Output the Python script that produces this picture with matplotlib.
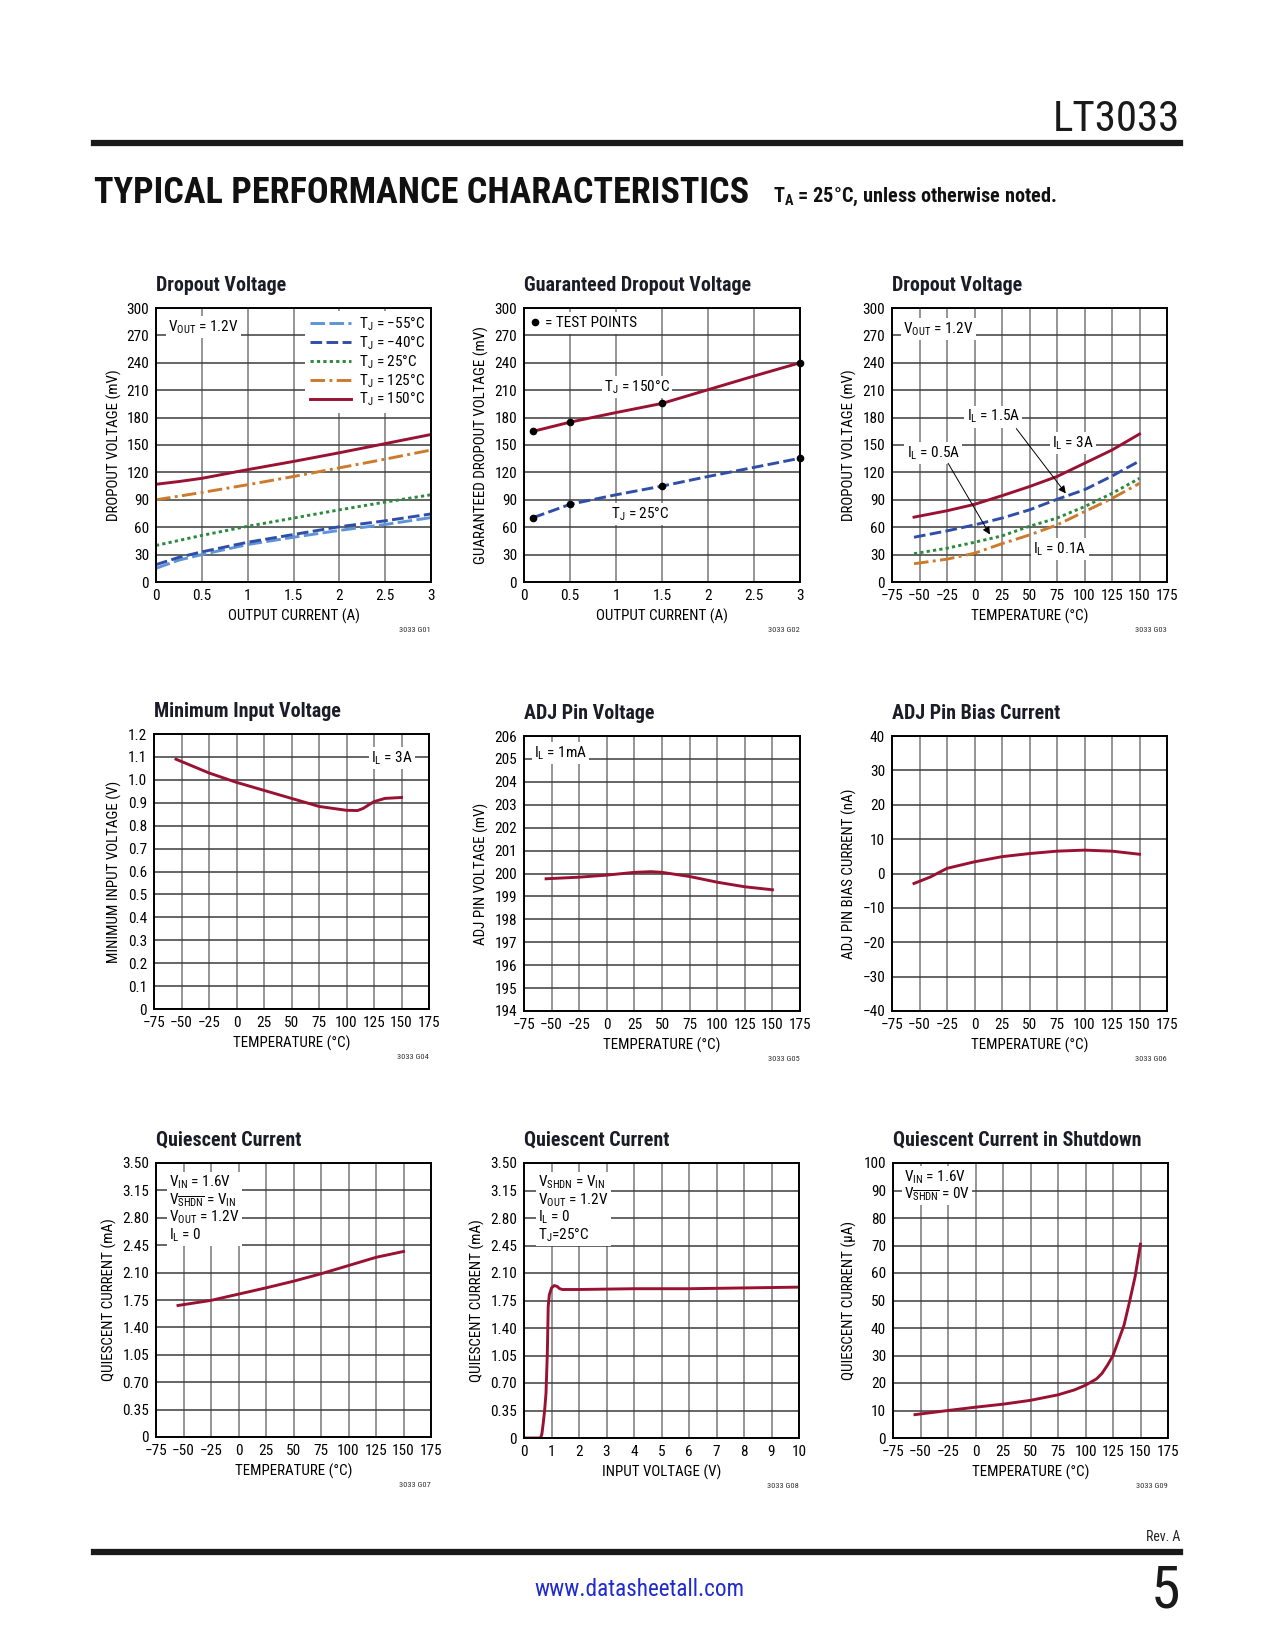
import numpy as np
import matplotlib.pyplot as plt
from matplotlib import font_manager as fm
from matplotlib.lines import Line2D

# pick a condensed sans if one is installed, else Liberation Sans (Arial metrics)
names = {f.name for f in fm.fontManager.ttflist}
FAM = 'Liberation Sans'
STRETCH = 'normal'
for cand in ['Liberation Sans Narrow', 'DejaVu Sans Condensed', 'Roboto Condensed',
             'Open Sans Condensed']:
    if cand in names:
        FAM = cand
        break
else:
    if any(f.name == 'DejaVu Sans' and str(f.stretch) == 'condensed' for f in fm.fontManager.ttflist):
        FAM, STRETCH = 'DejaVu Sans', 'condensed'
NARROW = FAM != 'Liberation Sans'
K = 1.0 if NARROW else 0.86   # font scale so text widths stay close to the page

plt.rcParams['font.family'] = [FAM, 'DejaVu Sans']
plt.rcParams['font.stretch'] = STRETCH
plt.rcParams['mathtext.fontset'] = 'custom'
plt.rcParams['mathtext.rm'] = FAM
plt.rcParams['mathtext.it'] = FAM + ':italic'
plt.rcParams['mathtext.bf'] = FAM + ':bold'

W, H = 1275, 1650
RED = '#9a1232'
BLUE = '#2f4ea8'
LBLUE = '#5f93d8'
GREEN = '#2b8a3e'
ORANGE = '#cc7a2c'
TITLE_C = '#1c1c28'

# ---- data ----
cur_x = [0, 0.25, 0.5, 1, 1.5, 2, 2.5, 3]
dv_m55 = [15, 24, 30, 41, 49, 56.5, 63, 70.5]
dv_m40 = [19, 27, 33, 43.5, 52, 60.5, 67, 74.5]
dv_25 = [40, 45.5, 51, 61, 70, 79, 87.5, 95.5]
dv_125 = [90, 94, 98, 106.5, 115.5, 125, 134.5, 144.5]
dv_150 = [107, 110, 113.5, 123, 132, 141.5, 151.5, 161.5]

gd_x = [0.1, 0.5, 1, 1.5, 2, 2.5, 3]
gd_150 = [165, 175, 185.5, 195.5, 210.5, 225.5, 240]
gd_25 = [70.5, 85, 95.5, 105, 115.5, 125.5, 135.5]
test_x = [0.1, 0.5, 1.5, 3]
test_150 = [165, 175, 195.5, 240]
test_25 = [70.5, 85, 105, 135.5]

temp = [-55, -25, 0, 25, 50, 75, 100, 125, 150]
dt_3a = [71, 78, 85, 94.5, 104.5, 115.5, 130, 144.5, 162]
dt_15a = [49, 56, 62.5, 70, 79, 90.5, 101, 116, 132.5]
dt_05a = [31, 37, 43.5, 50.5, 61, 70, 82.5, 97, 113.5]
dt_01a = [20, 25, 31.5, 42, 51.5, 62.5, 77, 91.5, 108]

vmin_t = [-55, -25, 0, 25, 50, 75, 100, 110, 115, 125, 135, 150]
vmin_v = [1.09, 1.03, 0.989, 0.954, 0.919, 0.884, 0.867, 0.866, 0.875, 0.905, 0.919, 0.923]

adj_t = [-55, -25, 0, 25, 40, 50, 75, 100, 125, 150]
adj_v = [199.77, 199.84, 199.93, 200.05, 200.08, 200.05, 199.87, 199.62, 199.42, 199.29]

bias_t = [-55, -40, -25, 0, 25, 50, 75, 100, 125, 150]
bias_i = [-2.9, -1.0, 1.5, 3.4, 4.9, 5.8, 6.5, 6.8, 6.5, 5.6]

iq_t = [-55, -25, 0, 25, 50, 75, 100, 125, 150]
iq_ma = [1.68, 1.745, 1.825, 1.905, 1.99, 2.085, 2.19, 2.295, 2.37]

iqv_x = [0, 0.6, 0.65, 0.7, 0.75, 0.8, 0.85, 0.88, 0.92, 1.0, 1.1, 1.2, 1.3, 1.4, 2, 4, 6, 8, 10]
iqv_ma = [0, 0, 0.05, 0.19, 0.35, 0.57, 1.1, 1.67, 1.82, 1.91, 1.94, 1.93, 1.9, 1.89, 1.89, 1.9, 1.9, 1.91, 1.92]

sd_t = [-55, -25, 0, 25, 50, 75, 90, 100, 110, 115, 120, 125, 130, 135, 140, 145, 150]
sd_ua = [8.5, 10, 11.2, 12.3, 13.7, 15.7, 17.5, 19.2, 21.5, 23.5, 26.5, 30, 35.5, 41, 49.5, 58.5, 70.5]

temp_ticks = list(range(-75, 176, 25))
temp_labels = [str(t).replace('-', '\u2212') for t in temp_ticks]

FS = 11 * K         # tick labels, notes
FL = 10.8 * K       # axis labels
FT = 14.4 * K       # chart titles

fig = plt.figure(figsize=(W / 100, H / 100), dpi=100)


def make_axes(box, title, code, xlabel, ylabel, ylab_x):
    l, t, r, b = box
    w, h = r - l, b - t
    ax = fig.add_axes([l / W, 1 - b / H, w / W, h / H])
    ax.set_axisbelow(True)
    ax.grid(axis='y', color='#3c3c3c', lw=1.1)
    ax.grid(axis='x', color='#8c8c8c', lw=1.3)
    ax.tick_params(length=0, labelsize=FS, pad=5.0)
    for s in ax.spines.values():
        s.set_linewidth(1.4)
        s.set_color('black')
    ax.set_xlabel(xlabel, fontsize=FL)
    ax.set_ylabel(ylabel, fontsize=FL)
    ax.xaxis.set_label_coords(0.5, -0.098)
    ax.yaxis.set_label_coords((ylab_x + 7 - l) / w, 0.5)
    ax.text(0, 1 + 17 / h, title, transform=ax.transAxes, fontsize=FT,
            fontweight='bold', color=TITLE_C, va='baseline', ha='left')
    ax.text(1, -48 / h, code, transform=ax.transAxes, fontsize=6,
            ha='right', va='center', color='#333333')
    return ax


def temp_axis(ax):
    ax.set_xlim(-75, 175)
    ax.set_xticks(temp_ticks)
    ax.set_xticklabels(temp_labels)


def note(ax, x, y, s, ha='center', va='center'):
    ax.text(x, y, s, fontsize=FS, ha=ha, va=va, zorder=3, linespacing=1.0,
            bbox=dict(facecolor='white', edgecolor='none', pad=1.5))


LW = 2.1

# ---- G01 ----
ax = make_axes((156, 308, 431, 582), 'Dropout Voltage', '3033 G01',
               'OUTPUT CURRENT (A)', 'DROPOUT VOLTAGE (mV)', 115)
ax.plot(cur_x, dv_m55, color=LBLUE, lw=LW, dashes=(5, 1.5), label='T$_{\\mathrm{J}}$ = \u221255\u00b0C')
ax.plot(cur_x, dv_m40, color=BLUE, lw=LW, dashes=(4, 1.5), label='T$_{\\mathrm{J}}$ = \u221240\u00b0C')
ax.plot(cur_x, dv_25, color=GREEN, lw=LW, dashes=(1.1, 1.1), label='T$_{\\mathrm{J}}$ = 25\u00b0C')
ax.plot(cur_x, dv_125, color=ORANGE, lw=LW, dashes=(5, 1.5, 1, 1.5), label='T$_{\\mathrm{J}}$ = 125\u00b0C')
ax.plot(cur_x, dv_150, color=RED, lw=LW, label='T$_{\\mathrm{J}}$ = 150\u00b0C')
ax.set_xlim(0, 3)
ax.set_ylim(0, 300)
ax.set_xticks([0, 0.5, 1, 1.5, 2, 2.5, 3])
ax.set_xticklabels(['0', '0.5', '1', '1.5', '2', '2.5', '3'])
ax.set_yticks(range(0, 301, 30))
ax.legend(loc='upper right', bbox_to_anchor=(0.995, 0.99), fontsize=FS,
          frameon=True, fancybox=False, framealpha=1, edgecolor='none',
          handlelength=2.7, handletextpad=0.5, labelspacing=0.1,
          borderpad=0.3, borderaxespad=0)
note(ax, 0.13, 279, 'V$_{\\mathrm{OUT}}$ = 1.2V', ha='left')

# ---- G02 ----
ax = make_axes((524, 308, 800, 582), 'Guaranteed Dropout Voltage', '3033 G02',
               'OUTPUT CURRENT (A)', 'GUARANTEED DROPOUT VOLTAGE (mV)', 482)
ax.plot(gd_x, gd_150, color=RED, lw=LW)
ax.plot(gd_x, gd_25, color=BLUE, lw=LW, dashes=(4, 1.5))
ax.plot(test_x, test_150, 'o', color='black', ms=4.5, zorder=5, clip_on=False)
ax.plot(test_x, test_25, 'o', color='black', ms=4.5, zorder=5, clip_on=False)
ax.set_xlim(0, 3)
ax.set_ylim(0, 300)
ax.set_xticks([0, 0.5, 1, 1.5, 2, 2.5, 3])
ax.set_xticklabels(['0', '0.5', '1', '1.5', '2', '2.5', '3'])
ax.set_yticks(range(0, 301, 30))
ax.legend(handles=[Line2D([], [], marker='o', ls='none', color='black', ms=4.5)],
          labels=['= TEST POINTS'], loc='upper left', bbox_to_anchor=(0.01, 0.985),
          fontsize=FS, frameon=True, fancybox=False, framealpha=1, edgecolor='none',
          handlelength=0.6, handletextpad=0.35, borderpad=0.25, borderaxespad=0)
note(ax, 1.23, 213.5, 'T$_{\\mathrm{J}}$ = 150\u00b0C')
note(ax, 1.26, 74.5, 'T$_{\\mathrm{J}}$ = 25\u00b0C')

# ---- G03 ----
ax = make_axes((892, 308, 1167, 582), 'Dropout Voltage', '3033 G03',
               'TEMPERATURE (\u00b0C)', 'DROPOUT VOLTAGE (mV)', 850)
ax.plot(temp, dt_3a, color=RED, lw=LW)
ax.plot(temp, dt_15a, color=BLUE, lw=LW, dashes=(4, 1.5))
ax.plot(temp, dt_05a, color=GREEN, lw=LW, dashes=(1.1, 1.1))
ax.plot(temp, dt_01a, color=ORANGE, lw=LW, dashes=(5, 1.5, 1, 1.5))
temp_axis(ax)
ax.set_ylim(0, 300)
ax.set_yticks(range(0, 301, 30))
note(ax, -65, 277, 'V$_{\\mathrm{OUT}}$ = 1.2V', ha='left')
note(ax, 17, 181, 'I$_{\\mathrm{L}}$ = 1.5A')
note(ax, 89.5, 152, 'I$_{\\mathrm{L}}$ = 3A')
note(ax, -37.5, 141, 'I$_{\\mathrm{L}}$ = 0.5A')
note(ax, 77.5, 36, 'I$_{\\mathrm{L}}$ = 0.1A')
arrow = dict(arrowstyle='-|>', color='black', lw=0.7, mutation_scale=11, shrinkA=0, shrinkB=0)
ax.annotate('', xy=(83, 97), xytext=(38, 168), arrowprops=arrow)
ax.annotate('', xy=(14, 52), xytext=(-24, 130), arrowprops=arrow)

# ---- G04 ----
ax = make_axes((154, 734, 429, 1009), 'Minimum Input Voltage', '3033 G04',
               'TEMPERATURE (\u00b0C)', 'MINIMUM INPUT VOLTAGE (V)', 115)
ax.plot(vmin_t, vmin_v, color=RED, lw=LW)
temp_axis(ax)
ax.set_ylim(0, 1.2)
yt = np.round(np.arange(0, 1.21, 0.1), 1)
ax.set_yticks(yt)
ax.set_yticklabels(['0'] + [f'{v:.1f}' for v in yt[1:]])
note(ax, 141.5, 1.095, 'I$_{\\mathrm{L}}$ = 3A')

# ---- G05 ----
ax = make_axes((524, 736, 800, 1011), 'ADJ Pin Voltage', '3033 G05',
               'TEMPERATURE (\u00b0C)', 'ADJ PIN VOLTAGE (mV)', 482)
ax.plot(adj_t, adj_v, color=RED, lw=LW)
temp_axis(ax)
ax.set_ylim(194, 206)
ax.set_yticks(range(194, 207))
note(ax, -42, 205.25, 'I$_{\\mathrm{L}}$ = 1mA')

# ---- G06 ----
ax = make_axes((892, 736, 1167, 1011), 'ADJ Pin Bias Current', '3033 G06',
               'TEMPERATURE (\u00b0C)', 'ADJ PIN BIAS CURRENT (nA)', 850)
ax.plot(bias_t, bias_i, color=RED, lw=LW)
temp_axis(ax)
ax.set_ylim(-40, 40)
ax.set_yticks(range(-40, 41, 10))
ax.set_yticklabels([str(v).replace('-', '\u2212') for v in range(-40, 41, 10)])

# ---- G07 ----
q_ticks = np.round(np.arange(0, 3.51, 0.35), 2)
q_labels = ['0'] + [f'{v:.2f}' for v in q_ticks[1:]]
ax = make_axes((156, 1163, 431, 1437), 'Quiescent Current', '3033 G07',
               'TEMPERATURE (\u00b0C)', 'QUIESCENT CURRENT (mA)', 110)
ax.plot(iq_t, iq_ma, color=RED, lw=LW)
temp_axis(ax)
ax.set_ylim(0, 3.5)
ax.set_yticks(q_ticks)
ax.set_yticklabels(q_labels)
note(ax, -63, 3.36,
     'V$_{\\mathrm{IN}}$ = 1.6V\n'
     'V$_{\\overline{\\mathrm{SHDN}}}$ = V$_{\\mathrm{IN}}$\n'
     'V$_{\\mathrm{OUT}}$ = 1.2V\n'
     'I$_{\\mathrm{L}}$ = 0', ha='left', va='top')

# ---- G08 ----
ax = make_axes((524, 1163, 799, 1438), 'Quiescent Current', '3033 G08',
               'INPUT VOLTAGE (V)', 'QUIESCENT CURRENT (mA)', 478)
ax.plot(iqv_x, iqv_ma, color=RED, lw=LW)
ax.set_xlim(0, 10)
ax.set_xticks(range(0, 11))
ax.set_ylim(0, 3.5)
ax.set_yticks(q_ticks)
ax.set_yticklabels(q_labels)
note(ax, 0.5, 3.36,
     'V$_{\\mathrm{SHDN}}$ = V$_{\\mathrm{IN}}$\n'
     'V$_{\\mathrm{OUT}}$ = 1.2V\n'
     'I$_{\\mathrm{L}}$ = 0\n'
     'T$_{\\mathrm{J}}$=25\u00b0C', ha='left', va='top')

# ---- G09 ----
ax = make_axes((893, 1163, 1168, 1438), 'Quiescent Current in Shutdown', '3033 G09',
               'TEMPERATURE (\u00b0C)', 'QUIESCENT CURRENT (\u00b5A)', 850)
ax.plot(sd_t, sd_ua, color=RED, lw=LW)
temp_axis(ax)
ax.set_ylim(0, 100)
ax.set_yticks(range(0, 101, 10))
note(ax, -65, 98,
     'V$_{\\mathrm{IN}}$ = 1.6V\n'
     'V$_{\\overline{\\mathrm{SHDN}}}$ = 0V', ha='left', va='top')

# ---- page header / footer ----
fig.text(1180 / W, 1 - 131 / H, 'LT3033', ha='right', va='baseline', fontsize=31 * K, color='#1a1a1a')
fig.add_artist(Line2D([94 / W, 1180 / W], [1 - 143 / H] * 2, color='#1a1a1a', lw=4.5,
                      transform=fig.transFigure))
fig.text(94 / W, 1 - 203 / H, 'TYPICAL PERFORMANCE CHARACTERISTICS', ha='left', va='baseline',
         fontsize=26 * K, fontweight='bold', color='#111111')
fig.text(773 / W, 1 - 202 / H, 'T$_{\\mathbf{A}}$ = 25\u00b0C, unless otherwise noted.', ha='left',
         va='baseline', fontsize=14.6 * K, fontweight='bold', color='#111111')

fig.add_artist(Line2D([94 / W, 1180 / W], [1 - 1552 / H] * 2, color='#1a1a1a', lw=4.5,
                      transform=fig.transFigure))
fig.text(1180 / W, 1 - 1541 / H, 'Rev. A', ha='right', va='baseline', fontsize=10, color='#222222')
fig.text(1180 / W, 1 - 1607 / H, '5', ha='right', va='baseline', fontsize=43, color='#1a1a1a')
fig.text(639 / W, 1 - 1590 / H, 'www.datasheetall.com', ha='center', va='center', fontsize=16.7 * K,
         color='#1f2bd1')

fig.savefig('out.png', dpi=100)
